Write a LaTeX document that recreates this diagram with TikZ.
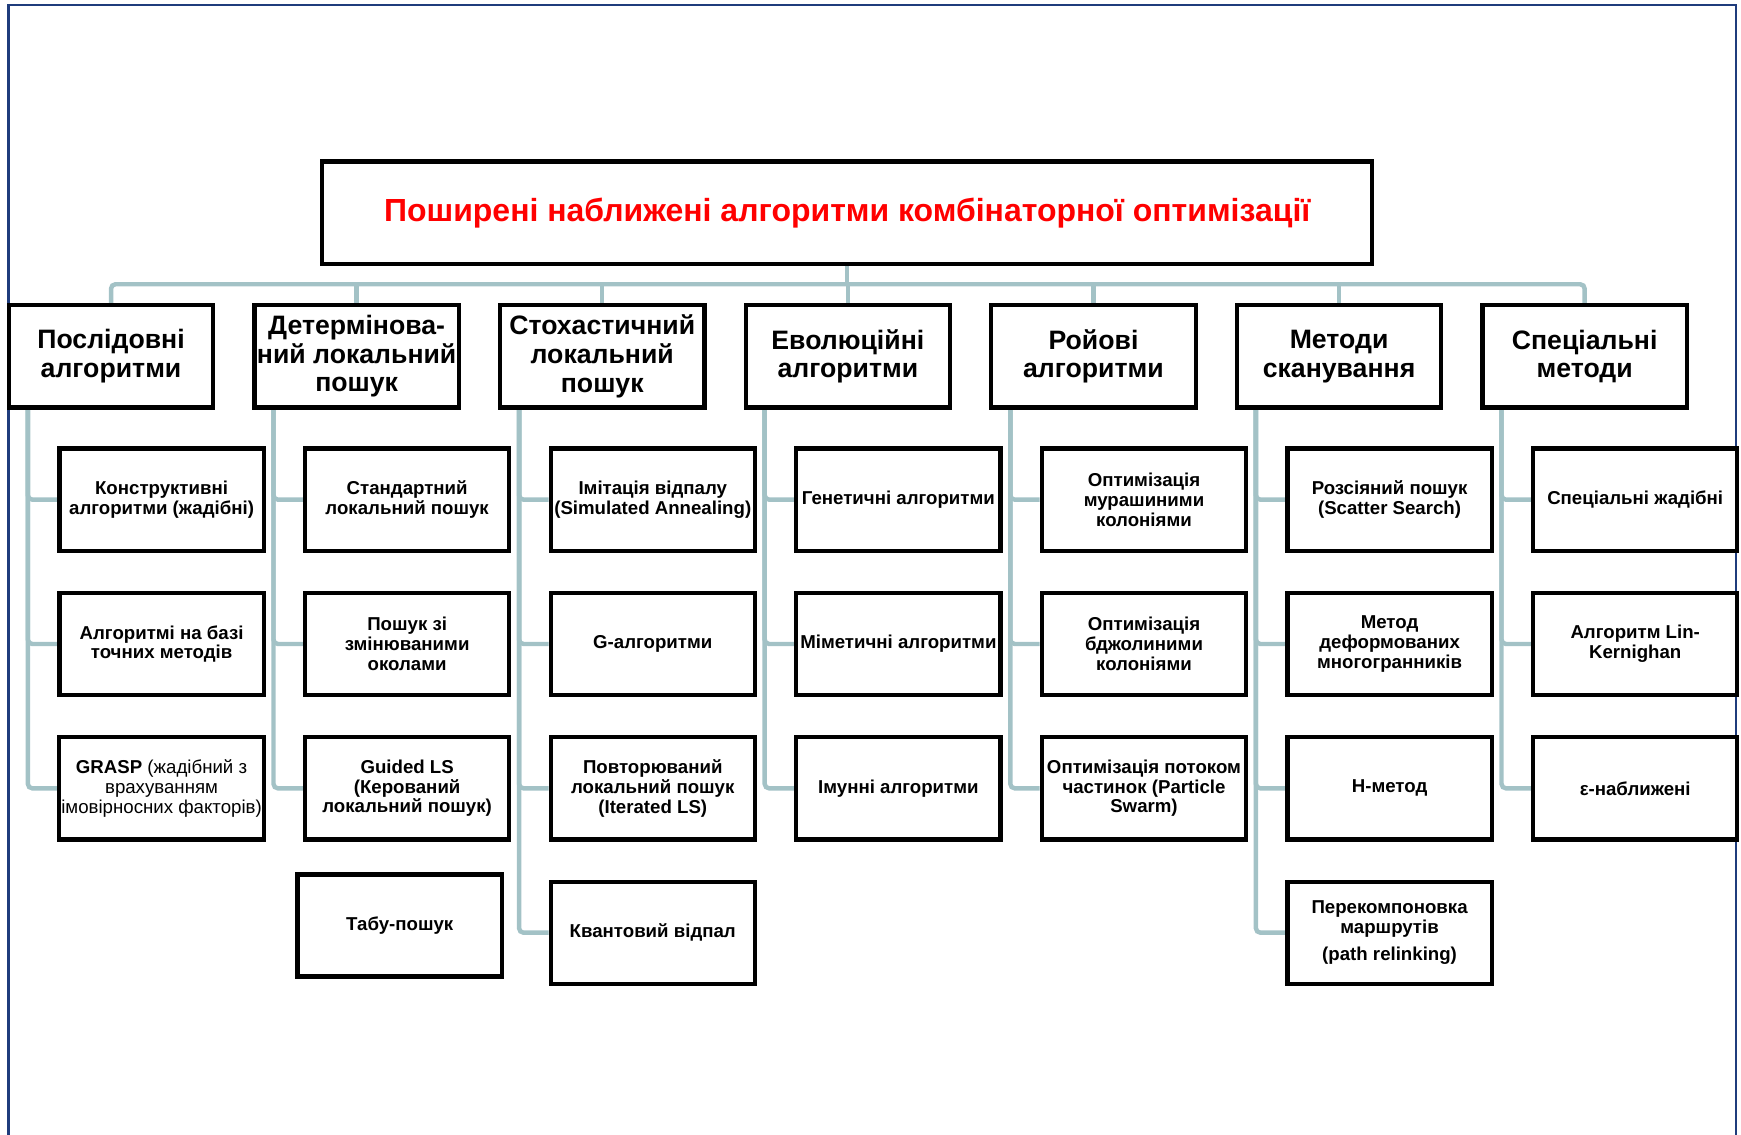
\documentclass[tikz,border=0pt]{standalone}
\usepackage{fontspec}
\setmainfont{Liberation Sans}
\usetikzlibrary{backgrounds}
\definecolor{framenavy}{HTML}{1F3C7C}
\definecolor{linkteal}{HTML}{A3C2C6}
\definecolor{titlered}{HTML}{FF0000}

\tikzset{
  box/.style={draw=black, line width=1.9pt, fill=white, align=center, inner sep=1pt,
    minimum width=92pt, minimum height=46pt,
    font=\fontsize{8.4}{8.9}\selectfont\bfseries},
  head/.style={box, font=\fontsize{12}{12.9}\selectfont\bfseries},
  titlebox/.style={box, minimum width=473pt, text=titlered,
    font=\fontsize{14.4}{15.5}\selectfont\bfseries},
  conn/.style={draw=linkteal, line width=2pt, rounded corners=2pt},
  frame/.style={draw=framenavy, line width=1.1pt},
}

\begin{document}
\begin{tikzpicture}[x=0.5pt, y=-0.5pt]
\useasboundingbox (0,0) rectangle (1568,1022);

% page frame (open at the bottom)
\draw[frame] (7.5,1030) -- (7.5,4.5) -- (1563.5,4.5) -- (1563.5,1030);

% root
\node[titlebox] (T) at (763,191.5) {Поширені наближені алгоритми комбінаторної оптимізації};

% first level
\node[head] (h1) at (100,321)    {Послідовні\\алгоритми};
\node[head] (h2) at (321.2,321)  {Детермінова-\\ний локальний\\пошук};
\node[head] (h3) at (542.4,321)  {Стохастичний\\локальний\\пошук};
\node[head] (h4) at (763.6,321)  {Еволюційні\\алгоритми};
\node[head] (h5) at (984.8,321)  {Ройові\\алгоритми};
\node[head] (h6) at (1206,321)   {Методи\\сканування};
\node[head] (h7) at (1427.2,321) {Спеціальні\\методи};

% column 1
\node[box] (c11) at (145.5,450) {Конструктивні\\алгоритми (жадібні)};
\node[box] (c12) at (145.5,580) {Алгоритмі на базі\\точних методів};
\node[box] (c13) at (145.5,710) {GRASP {\mdseries (жадібний з}\\{\mdseries врахуванням}\\{\mdseries імовірносних факторів)}};

% column 2
\node[box] (c21) at (366.7,450) {Стандартний\\локальний пошук};
\node[box] (c22) at (366.7,580) {Пошук зі\\змінюваними\\околами};
\node[box] (c23) at (366.7,710) {Guided LS\\(Керований\\локальний пошук)};
\node[box] (tabu) at (360,833.5) {Табу-пошук};

% column 3
\node[box] (c31) at (587.9,450) {Імітація відпалу\\(Simulated Annealing)};
\node[box] (c32) at (587.9,580) {G-алгоритми};
\node[box] (c33) at (587.9,710) {Повторюваний\\локальний пошук\\(Iterated LS)};
\node[box] (c34) at (587.9,840) {Квантовий відпал};

% column 4
\node[box] (c41) at (809.1,450) {Генетичні алгоритми};
\node[box] (c42) at (809.1,580) {Міметичні алгоритми};
\node[box] (c43) at (809.1,710) {Імунні алгоритми};

% column 5
\node[box] (c51) at (1030.3,450) {Оптимізація\\мурашиними\\колоніями};
\node[box] (c52) at (1030.3,580) {Оптимізація\\бджолиними\\колоніями};
\node[box] (c53) at (1030.3,710) {Оптимізація потоком\\частинок (Particle\\Swarm)};

% column 6
\node[box] (c61) at (1251.5,450) {Розсіяний пошук\\(Scatter Search)};
\node[box] (c62) at (1251.5,580) {Метод\\деформованих\\многогранників};
\node[box] (c63) at (1251.5,710) {Н-метод};
\node[box] (c64) at (1251.5,840) {Перекомпоновка\\маршрутів\\[3.5pt](path relinking)};

% column 7
\node[box] (c71) at (1472.7,450) {Спеціальні жадібні};
\node[box] (c72) at (1472.7,580) {Алгоритм Lin-\\Kernighan};
\node[box] (c73) at (1472.7,710) {ε-наближені};

\begin{scope}[on background layer]
  % root to first level
  \coordinate (bus) at (763,256);
  \draw[conn] (T.south) -- (bus);
  \draw[conn] (h1.north) |- (bus) -| (h7.north);
  \foreach \h in {h2,h3,h4,h5,h6}
    \draw[conn] (\h.north) -- (\h.north |- bus);

  % trunks to the children
  \foreach \h/\kids in {h1/{c11,c12,c13}, h2/{c21,c22,c23}, h3/{c31,c32,c33,c34},
                        h4/{c41,c42,c43}, h5/{c51,c52,c53}, h6/{c61,c62,c63,c64},
                        h7/{c71,c72,c73}}
    \foreach \k in \kids
      \draw[conn] ([xshift=9.5pt]\h.south west) |- (\k.west);
\end{scope}
\end{tikzpicture}
\end{document}
